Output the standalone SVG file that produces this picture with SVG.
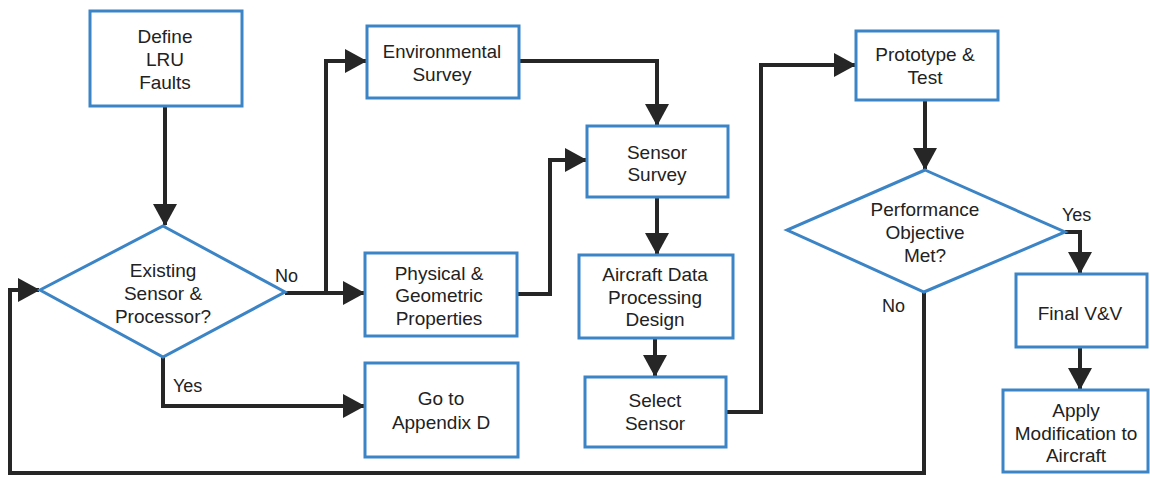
<svg xmlns="http://www.w3.org/2000/svg" width="1150" height="478" viewBox="0 0 1150 478">
  <style>
    .box { fill: #ffffff; stroke: #3b84c6; stroke-width: 3; }
    .lbl { font-family: "Liberation Sans", Arial, sans-serif; font-size: 19px; fill: #222222; text-anchor: middle; }
    .small { font-size: 18.5px; }
    .tag { font-family: "Liberation Sans", Arial, sans-serif; font-size: 18px; fill: #222222; }
    .wire { fill: none; stroke: #262626; stroke-width: 4; stroke-linejoin: miter; }
  </style>
  <defs>
    <marker id="arrow" viewBox="0 0 22 24" refX="21" refY="12" markerWidth="22" markerHeight="24" markerUnits="userSpaceOnUse" orient="auto">
      <path d="M0,0 L22,12 L0,24 z" fill="#262626"/>
    </marker>
  </defs>

  <rect width="1150" height="478" fill="#ffffff"/>

  <!-- connectors -->
  <g id="connectors">
    <path class="wire" d="M165,106 V225" marker-end="url(#arrow)"/>
    <path class="wire" d="M285,293 H364" marker-end="url(#arrow)"/>
    <path class="wire" d="M326,293 V61 H366" marker-end="url(#arrow)"/>
    <path class="wire" d="M163,357 V406 H364" marker-end="url(#arrow)"/>
    <path class="wire" d="M519,61 H657 V125" marker-end="url(#arrow)"/>
    <path class="wire" d="M517,294 H550 V160 H586" marker-end="url(#arrow)"/>
    <path class="wire" d="M657,197 V254" marker-end="url(#arrow)"/>
    <path class="wire" d="M655,338 V376" marker-end="url(#arrow)"/>
    <path class="wire" d="M726,412 H761 V65 H855" marker-end="url(#arrow)"/>
    <path class="wire" d="M925,100 V169" marker-end="url(#arrow)"/>
    <path class="wire" d="M1065,232 H1080 V273" marker-end="url(#arrow)"/>
    <path class="wire" d="M1080,347 V389" marker-end="url(#arrow)"/>
    <path class="wire" d="M924,292 V473 H10 V290 H39" marker-end="url(#arrow)"/>
    <text class="tag" x="275" y="282">No</text>
    <text class="tag" x="173" y="392">Yes</text>
    <text class="tag" x="1062" y="221">Yes</text>
    <text class="tag" x="882" y="312">No</text>
  </g>

  <g id="define-lru-faults">
    <rect class="box" x="90" y="11" width="152" height="95"/>
    <text class="lbl" x="165" y="43">Define</text>
    <text class="lbl" x="165" y="66">LRU</text>
    <text class="lbl" x="165" y="89">Faults</text>
  </g>

  <g id="existing-sensor">
    <polygon class="box" points="163,226 285,292 163,357 40,290"/>
    <text class="lbl" x="163" y="277">Existing</text>
    <text class="lbl" x="163" y="300">Sensor &amp;</text>
    <text class="lbl" x="163" y="323">Processor?</text>
  </g>

  <g id="environmental-survey">
    <rect class="box" x="367" y="26" width="152" height="72"/>
    <text class="lbl small" x="442" y="58">Environmental</text>
    <text class="lbl" x="442" y="81">Survey</text>
  </g>

  <g id="physical-geometric">
    <rect class="box" x="365" y="253" width="152" height="83"/>
    <text class="lbl" x="439" y="280">Physical &amp;</text>
    <text class="lbl" x="439" y="302">Geometric</text>
    <text class="lbl" x="439" y="325">Properties</text>
  </g>

  <g id="go-to-appendix-d">
    <rect class="box" x="365" y="363" width="153" height="94"/>
    <text class="lbl" x="441" y="405">Go to</text>
    <text class="lbl" x="441" y="429">Appendix D</text>
  </g>

  <g id="sensor-survey">
    <rect class="box" x="587" y="126" width="141" height="71"/>
    <text class="lbl" x="657" y="159">Sensor</text>
    <text class="lbl" x="657" y="181">Survey</text>
  </g>

  <g id="aircraft-data-processing">
    <rect class="box" x="579" y="255" width="154" height="83"/>
    <text class="lbl" x="655" y="281">Aircraft Data</text>
    <text class="lbl" x="655" y="304">Processing</text>
    <text class="lbl" x="655" y="326">Design</text>
  </g>

  <g id="select-sensor">
    <rect class="box" x="585" y="377" width="141" height="70"/>
    <text class="lbl" x="655" y="407">Select</text>
    <text class="lbl" x="655" y="430">Sensor</text>
  </g>

  <g id="prototype-test">
    <rect class="box" x="856" y="31" width="142" height="69"/>
    <text class="lbl" x="925" y="61">Prototype &amp;</text>
    <text class="lbl" x="925" y="84">Test</text>
  </g>

  <g id="performance-objective">
    <polygon class="box" points="925,170 1065,232 924,292 787,230"/>
    <text class="lbl" x="925" y="216">Performance</text>
    <text class="lbl" x="925" y="239">Objective</text>
    <text class="lbl" x="925" y="262">Met?</text>
  </g>

  <g id="final-vv">
    <rect class="box" x="1016" y="274" width="131" height="73"/>
    <text class="lbl" x="1080" y="320">Final V&amp;V</text>
  </g>

  <g id="apply-modification">
    <rect class="box" x="1003" y="390" width="145" height="82"/>
    <text class="lbl" x="1076" y="417">Apply</text>
    <text class="lbl" x="1076" y="440">Modification to</text>
    <text class="lbl" x="1076" y="462">Aircraft</text>
  </g>
</svg>
